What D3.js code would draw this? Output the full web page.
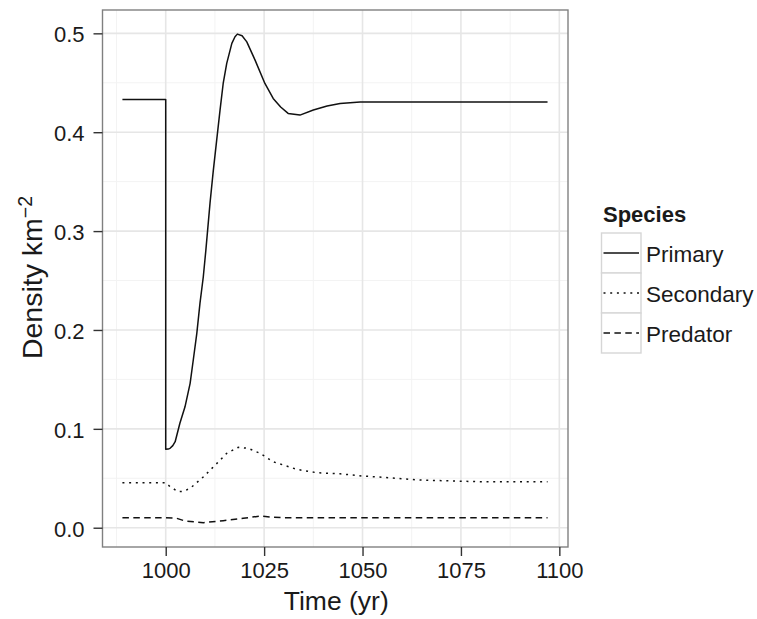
<!DOCTYPE html>
<html>
<head>
<meta charset="utf-8">
<script src="https://cdn.jsdelivr.net/npm/d3@7"></script>
<style>
  html, body { margin: 0; padding: 0; background: #ffffff; }
  svg { display: block; font-family: "Liberation Sans", Arial, sans-serif; }
</style>
</head>
<body>
<svg id="chart" width="757" height="619"></svg>
<script>
// ---------- data ----------
const primaryYears = [989, 1000, 1000, 1000.6, 1001.1, 1001.8, 1002.4, 1003.6, 1004.9, 1006.2, 1007.0, 1007.9, 1008.7, 1009.55, 1010.2, 1011.25, 1012.1, 1012.95, 1013.8, 1014.6, 1015.5, 1016.8, 1017.6, 1018.2, 1019.4, 1020.6, 1022.7, 1025.2, 1027.3, 1029.2, 1031.1, 1034.1, 1037.5, 1041, 1044.3, 1049.4, 1055, 1097];
const primaryValues = [0.433, 0.433, 0.0793, 0.0795, 0.0803, 0.083, 0.087, 0.1056, 0.1223, 0.146, 0.1696, 0.1966, 0.2269, 0.2538, 0.2808, 0.328, 0.3617, 0.392, 0.4224, 0.4493, 0.4696, 0.4898, 0.4965, 0.4992, 0.4975, 0.4914, 0.4729, 0.4493, 0.4342, 0.4255, 0.419, 0.4173, 0.4224, 0.4265, 0.4291, 0.4305, 0.4305, 0.4305];

const secondaryYears = [989, 1000, 1001.1, 1003.2, 1004.5, 1006.2, 1009.6, 1013.0, 1015.5, 1018.4, 1021.0, 1024.0, 1027.3, 1030.7, 1033.3, 1038.4, 1044.3, 1050, 1055.3, 1064.6, 1079.9, 1097];
const secondaryValues = [0.0455, 0.0455, 0.0415, 0.0364, 0.0368, 0.0398, 0.0516, 0.0651, 0.0752, 0.0813, 0.0803, 0.0752, 0.0667, 0.0624, 0.059, 0.0556, 0.0545, 0.0523, 0.051, 0.0482, 0.0465, 0.0465];

const predatorYears = [989, 1000, 1002.8, 1004.9, 1009.6, 1014.6, 1019.7, 1024.0, 1027.3, 1030, 1097];
const predatorValues = [0.0101, 0.0101, 0.0095, 0.0068, 0.0051, 0.0071, 0.0095, 0.0118, 0.0105, 0.0101, 0.0101];

const speciesNames = ["Primary", "Secondary", "Predator"];
const xTickValues = [1000, 1025, 1050, 1075, 1100];
const yTickValues = [0.0, 0.1, 0.2, 0.3, 0.4, 0.5];
const xMinorValues = [987.5, 1012.5, 1037.5, 1062.5, 1087.5];
const yMinorValues = [0.05, 0.15, 0.25, 0.35, 0.45];

// ---------- layout ----------
const panel = { left: 102.5, right: 568, top: 10, bottom: 547 };
const svg = d3.select("#chart");

const x = d3.scaleLinear().domain([983.94, 1102.2]).range([panel.left, panel.right]);
const y = d3.scaleLinear().domain([-0.0195, 0.5236]).range([panel.bottom, panel.top]);

// panel background
svg.append("rect")
  .attr("x", panel.left).attr("y", panel.top)
  .attr("width", panel.right - panel.left).attr("height", panel.bottom - panel.top)
  .attr("fill", "#ffffff");

// minor grid
const g = svg.append("g");
g.selectAll(".xminor").data(xMinorValues).join("line")
  .attr("x1", d => x(d)).attr("x2", d => x(d))
  .attr("y1", panel.top).attr("y2", panel.bottom)
  .attr("stroke", "#f3f3f3").attr("stroke-width", 1);
g.selectAll(".yminor").data(yMinorValues).join("line")
  .attr("y1", d => y(d)).attr("y2", d => y(d))
  .attr("x1", panel.left).attr("x2", panel.right)
  .attr("stroke", "#f3f3f3").attr("stroke-width", 1);
// major grid
g.selectAll(".xmajor").data(xTickValues).join("line")
  .attr("x1", d => x(d)).attr("x2", d => x(d))
  .attr("y1", panel.top).attr("y2", panel.bottom)
  .attr("stroke", "#e6e6e6").attr("stroke-width", 1.6);
g.selectAll(".ymajor").data(yTickValues).join("line")
  .attr("y1", d => y(d)).attr("y2", d => y(d))
  .attr("x1", panel.left).attr("x2", panel.right)
  .attr("stroke", "#e6e6e6").attr("stroke-width", 1.6);

// lines
const series = [
  { name: speciesNames[0], xs: primaryYears, ys: primaryValues, dash: null },
  { name: speciesNames[1], xs: secondaryYears, ys: secondaryValues, dash: "2,4.7" },
  { name: speciesNames[2], xs: predatorYears, ys: predatorValues, dash: "6.5,4.4" }
];
const line = d3.line().x(d => x(d[0])).y(d => y(d[1]));
series.forEach(s => {
  svg.append("path")
    .datum(s.xs.map((v, i) => [v, s.ys[i]]))
    .attr("d", line)
    .attr("fill", "none")
    .attr("stroke", "#111111")
    .attr("stroke-width", 1.5)
    .attr("stroke-linejoin", "round")
    .attr("stroke-dasharray", s.dash);
});

// panel border
svg.append("rect")
  .attr("x", panel.left).attr("y", panel.top)
  .attr("width", panel.right - panel.left).attr("height", panel.bottom - panel.top)
  .attr("fill", "none").attr("stroke", "#808080").attr("stroke-width", 1.4);

// axes
const xAxis = d3.axisBottom(x).tickValues(xTickValues).tickSize(9).tickPadding(5).tickFormat(d3.format("d"));
const yAxis = d3.axisLeft(y).tickValues(yTickValues).tickSize(9).tickPadding(9).tickFormat(d3.format(".1f"));

const gx = svg.append("g").attr("transform", `translate(0,${panel.bottom})`).call(xAxis);
const gy = svg.append("g").attr("transform", `translate(${panel.left},0)`).call(yAxis);
[gx, gy].forEach(ax => {
  ax.select(".domain").remove();
  ax.selectAll(".tick line").attr("stroke", "#333333").attr("stroke-width", 1.4);
  ax.selectAll(".tick text").attr("fill", "#1a1a1a").style("font-size", "22px")
    .style("font-family", "'Liberation Sans', Arial, sans-serif");
});
gx.selectAll(".tick text").attr("dy", "0.78em");
gy.selectAll(".tick text").attr("dy", "0.38em");

// axis titles
svg.append("text")
  .attr("x", (panel.left + panel.right) / 2 + 1)
  .attr("y", 610)
  .attr("text-anchor", "middle")
  .attr("fill", "#1a1a1a")
  .style("font-size", "26.5px")
  .text("Time (yr)");

const yt = svg.append("text")
  .attr("transform", `translate(42,${(panel.top + panel.bottom) / 2 - 1}) rotate(-90)`)
  .attr("text-anchor", "middle")
  .attr("fill", "#1a1a1a")
  .style("font-size", "28.5px");
yt.append("tspan").text("Density km");
yt.append("tspan").attr("dy", "-0.5em").style("font-size", "19.5px").text("\u22122");

// legend
const leg = svg.append("g");
leg.append("text")
  .attr("x", 603).attr("y", 222)
  .attr("fill", "#1a1a1a")
  .style("font-size", "22px").style("font-weight", "bold")
  .text("Species");
const keyTop = 233, keyH = 40, keyX = 601.5, keyW = 39.5;
series.forEach((s, i) => {
  const ky = keyTop + i * keyH;
  leg.append("rect")
    .attr("x", keyX).attr("y", ky).attr("width", keyW).attr("height", keyH)
    .attr("fill", "#ffffff").attr("stroke", "#d6d6d6").attr("stroke-width", 1.4);
  leg.append("line")
    .attr("x1", keyX + 2).attr("x2", keyX + keyW - 2)
    .attr("y1", ky + keyH / 2).attr("y2", ky + keyH / 2)
    .attr("stroke", "#111111").attr("stroke-width", 1.5)
    .attr("stroke-dasharray", s.dash);
  leg.append("text")
    .attr("x", 646).attr("y", ky + keyH / 2 + 1)
    .attr("dy", "0.36em")
    .attr("fill", "#1a1a1a")
    .style("font-size", "22.5px")
    .text(s.name);
});
</script>
</body>
</html>
